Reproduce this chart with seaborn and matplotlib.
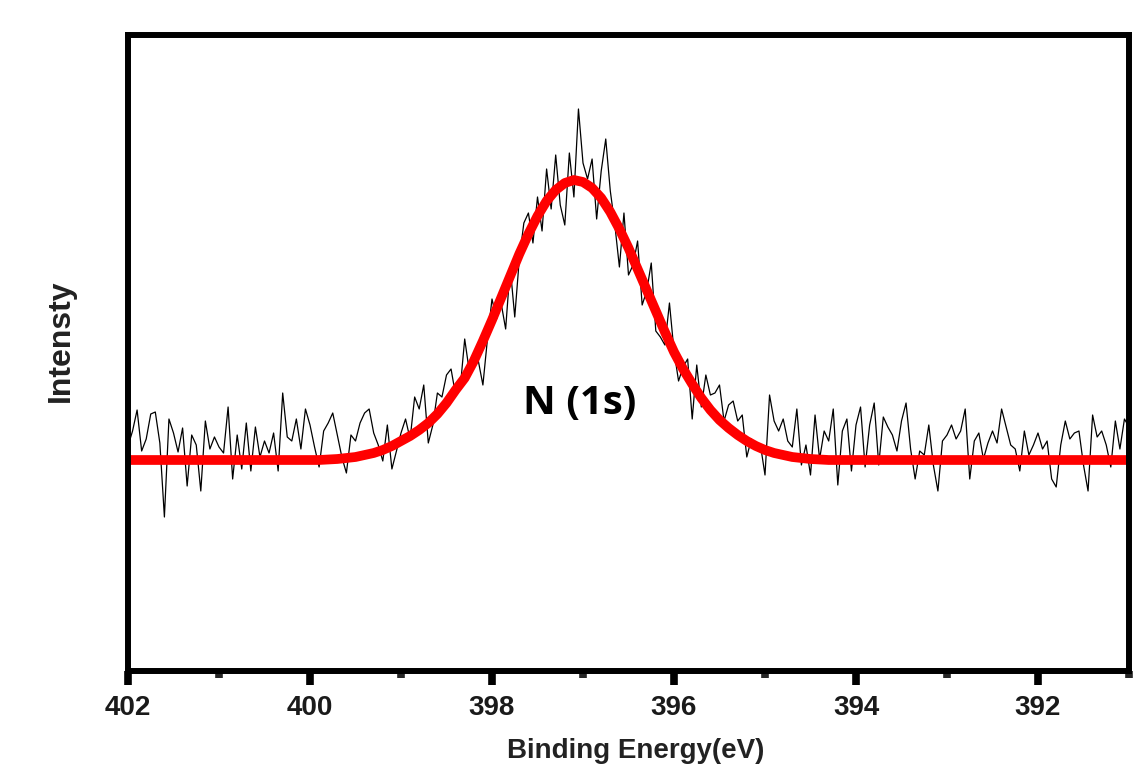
import numpy as np
import pandas as pd
import matplotlib
matplotlib.use("Agg")
import matplotlib.pyplot as plt
import seaborn as sns
from matplotlib.ticker import MultipleLocator

# raw N 1s spectrum, 0.05 eV steps from 402.00 down to 391.00 eV
energy = np.round(np.linspace(402.0, 391.0, 221), 2)
counts = [
    225, 240, 261, 220, 232, 257, 259, 228, 154, 252,
    238, 219, 243, 185, 236, 226, 180, 250, 222, 234,
    224, 218, 264, 192, 236, 202, 248, 200, 244, 214,
    230, 218, 238, 200, 278, 234, 230, 252, 222, 262,
    246, 224, 204, 240, 248, 258, 236, 214, 198,
    236, 230, 248, 258, 262, 238, 226, 210, 246, 202,
    220, 238, 252, 232, 274, 262, 286, 228, 246, 278,
    274, 296, 302, 276, 282, 332, 300, 318, 310, 286,
    332, 372, 352, 368, 342, 404, 354, 412,
    448, 458, 428, 474, 440, 502, 462, 516, 466, 446,
    518, 474, 562, 508, 492, 512, 452, 500, 532, 480,
    446, 404, 458, 396, 406, 430, 366, 380, 408, 340,
    334, 326, 368, 320,
    290, 304, 312, 252, 306, 264, 296, 276, 278, 286,
    250, 266, 270, 250, 256, 214, 232, 226, 226, 196,
    276, 250, 240, 252, 230, 224, 262, 206, 226, 196,
    256, 212, 240, 230, 262, 186, 240, 252,
    200, 246, 264, 204, 246, 268, 206, 254, 244, 236,
    220, 250, 268, 222, 192, 220, 216, 246, 206, 180,
    230, 236, 246, 232, 240, 262, 192, 230, 238, 212,
    228, 240, 228, 262, 244, 226, 222, 200, 240, 216,
    226, 238, 222, 230, 192, 184, 226, 250, 232, 238,
    240, 206, 180, 256, 234, 240, 226, 204, 250, 222,
    252, 244,
]

# fitted envelope
fit_energy = [402.0, 400.2, 400.0, 399.9, 399.8, 399.7, 399.6, 399.5, 399.4, 399.3,
              399.2, 399.1, 399.0, 398.9, 398.8, 398.7, 398.6, 398.5, 398.4, 398.3,
              398.2, 398.1, 398.0, 397.9, 397.8, 397.7, 397.6, 397.5, 397.4, 397.3,
              397.2, 397.1, 397.0, 396.9, 396.8, 396.7, 396.6, 396.5, 396.4, 396.3,
              396.2, 396.1, 396.0, 395.9, 395.8, 395.7, 395.6, 395.5, 395.4, 395.3,
              395.2, 395.1, 395.0, 394.9, 394.8, 394.7, 394.6, 394.5, 394.4, 394.3,
              394.2, 394.0, 391.0]
fit_counts = [211, 211, 211, 211, 211.5, 212, 213, 214, 216, 218,
              221, 225, 230, 235, 241, 248, 257, 268, 281, 293,
              310, 330, 351, 373, 395, 417, 437, 455, 470, 481,
              488, 491, 489, 483, 473, 459, 442, 423, 402, 381,
              360, 339, 319, 302, 287, 273, 261, 251, 243, 236,
              230, 225, 221, 218, 216, 214, 213, 212, 211.5, 211,
              211, 211, 211]

assert len(energy) == len(counts)
raw = pd.DataFrame({"energy": energy, "counts": counts})
fit = pd.DataFrame({"energy": fit_energy, "counts": fit_counts})

sns.set_theme(style="ticks")
plt.rcParams["font.family"] = ["Liberation Sans", "DejaVu Sans"]

fig = plt.figure(figsize=(11.34, 7.69), dpi=100)
ax = fig.add_axes([128 / 1134, 98 / 769, 1001 / 1134, 636 / 769])

sns.lineplot(data=raw, x="energy", y="counts", ax=ax, color="black",
             linewidth=0.9, sort=False, estimator=None)
sns.lineplot(data=fit, x="energy", y="counts", ax=ax, color="#ff0000",
             linewidth=7, sort=False, estimator=None)

ax.set_xlim(402, 391)
ax.set_ylim(0, 636)
ax.set_yticks([])
ax.xaxis.set_major_locator(MultipleLocator(2))
ax.xaxis.set_minor_locator(MultipleLocator(1))
ax.tick_params(axis="x", which="major", direction="out", length=10, width=5.5,
               pad=7, labelsize=20, colors="black")
ax.tick_params(axis="x", which="minor", direction="out", length=5, width=5.5)
for lab in ax.get_xticklabels():
    lab.set_fontweight("bold")
    lab.set_color("#1a1a1a")

for side in ["left", "right", "top", "bottom"]:
    ax.spines[side].set_visible(True)
    ax.spines[side].set_linewidth(4.3)
    ax.spines[side].set_color("black")

ax.set_xlabel("Binding Energy(eV)", fontsize=20, fontweight="bold", color="#222222")
ax.xaxis.set_label_coords(0.507, -0.106)
ax.set_ylabel("Intensty", fontsize=23, fontweight="bold", color="#222222")
ax.yaxis.set_label_coords(-0.052, 0.52)

ax.text(397.04, 268, "N (1s)", fontsize=29, fontweight="bold",
        family=["Open Sans", "DejaVu Sans"], ha="center", va="center", color="black")

fig.savefig("out.png", dpi=100, facecolor="white")
